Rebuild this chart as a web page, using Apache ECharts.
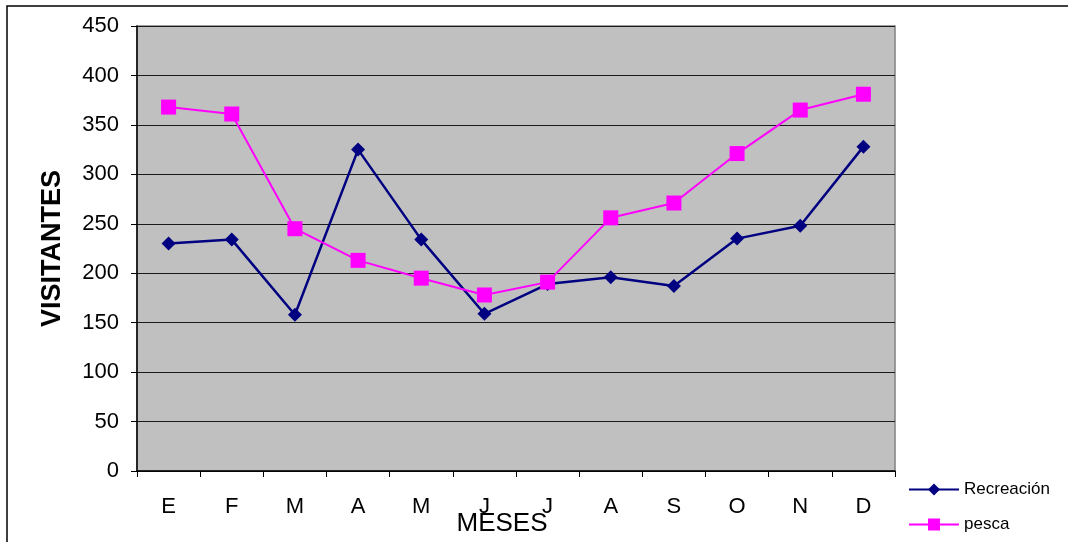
<!DOCTYPE html>
<html>
<head>
<meta charset="utf-8">
<script src="https://cdn.jsdelivr.net/npm/echarts@6/dist/echarts.min.js"></script>
<style>html,body{margin:0;padding:0;background:#fff}#c{width:1068px;height:542px}</style>
</head>
<body>
<div id="c"></div>
<script>
const categories = ['E','F','M','A','M','J','J','A','S','O','N','D'];
const recreacion = [230, 234, 158, 325, 234, 159, 189, 196, 187, 235, 248, 328];
const pesca = [368, 361, 245, 213, 195, 178, 191, 256, 271, 321, 365, 381];
const yTicks = [0, 50, 100, 150, 200, 250, 300, 350, 400, 450];

const chart = echarts.init(document.getElementById('c'));
const F = 'Liberation Sans, Arial, sans-serif';
chart.setOption({
  animation: false,
  backgroundColor: '#fff',
  graphic: [{
    type: 'rect', z: -1, silent: true,
    shape: { x: 7, y: 6, width: 1100, height: 600 },
    style: { fill: 'none', stroke: '#000', lineWidth: 1.5 }
  }],
  grid: {
    left: 137, right: 173, top: 26, bottom: 71,
    outerBoundsMode: 'none', containLabel: false,
    show: true, backgroundColor: '#c0c0c0', borderColor: '#808080', borderWidth: 1.5
  },
  legend: {
    orient: 'vertical', left: 908, top: 481, itemGap: 18, padding: 0,
    itemWidth: 50, itemHeight: 15,
    textStyle: { fontFamily: F, fontSize: 17, color: '#000' },
    data: ['Recreación', 'pesca']
  },
  xAxis: {
    type: 'category', data: categories, boundaryGap: true,
    name: 'MESES', nameLocation: 'middle', nameGap: 40, nameMoveOverlap: false,
    nameTextStyle: { fontFamily: F, fontSize: 26, color: '#000', padding: [0, 28, 0, 0] },
    axisLine: { lineStyle: { color: '#000', width: 1.5 } },
    axisTick: { show: true, length: 6, lineStyle: { color: '#000' } },
    axisLabel: { fontFamily: F, fontSize: 22, color: '#000', margin: 25 }
  },
  yAxis: {
    type: 'value', min: 0, max: 450, interval: 50,
    name: 'VISITANTES', nameLocation: 'middle', nameGap: 71, nameRotate: 90, nameMoveOverlap: false,
    nameTextStyle: { fontFamily: F, fontSize: 27, fontWeight: 'bold', color: '#000' },
    axisLine: { show: true, lineStyle: { color: '#000', width: 1.5 } },
    axisTick: { show: true, length: 6, lineStyle: { color: '#000' } },
    axisLabel: { fontFamily: F, fontSize: 22, color: '#000', margin: 18,
      formatter: v => yTicks.includes(v) ? String(v) : '' },
    splitLine: { show: true, lineStyle: { color: '#1a1a1a', width: 1 } }
  },
  series: [{
    name: 'Recreación', type: 'line', data: recreacion,
    symbol: 'diamond', symbolSize: 14,
    itemStyle: { color: '#000080' },
    lineStyle: { color: '#000080', width: 2.5 }
  }, {
    name: 'pesca', type: 'line', data: pesca,
    symbol: 'rect', symbolSize: 15,
    itemStyle: { color: '#ff00ff' },
    lineStyle: { color: '#ff00ff', width: 2 }
  }]
});
</script>
</body>
</html>
